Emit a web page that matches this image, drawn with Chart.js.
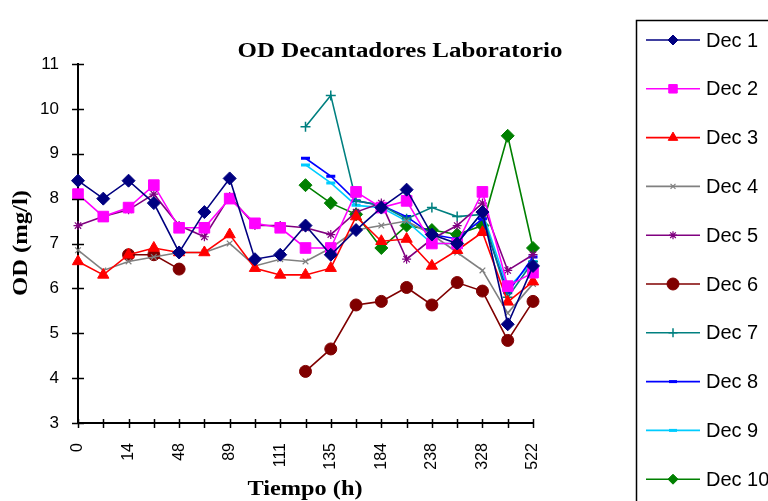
<!DOCTYPE html>
<html>
<head>
<meta charset="utf-8">
<script src="https://cdn.jsdelivr.net/npm/chart.js"></script>
<style>
html,body{margin:0;padding:0;background:#fff;}
#wrap{width:768px;height:501px;}
</style>
</head>
<body>
<div id="wrap"><canvas id="odChart" width="768" height="501"></canvas></div>
<script>
// tiempo (h) - only every other label is printed on the axis
const hours = ["0","7","14","24","48","65","89","96","111","118","135","159","184","208","238","280","328","426","522"];
const seriesNames = ["Dec 1","Dec 2","Dec 3","Dec 4","Dec 5","Dec 6","Dec 7","Dec 8","Dec 9","Dec 10"];
const yTicks = [3,4,5,6,7,8,9,10,11];

const dec1 = [8.4,8.0,8.4,7.9,6.8,7.7,8.45,6.65,6.75,7.4,6.75,7.3,7.8,8.2,7.2,7.0,7.7,5.2,6.5];
const dec2 = [8.1,7.6,7.8,8.3,7.35,7.35,8.0,7.45,7.35,6.9,6.9,8.15,7.8,7.95,7.0,7.0,8.15,6.05,6.35];
const dec3 = [6.6,6.3,6.75,6.9,6.8,6.8,7.2,6.45,6.3,6.3,6.45,7.6,7.05,7.1,6.5,6.85,7.25,5.7,6.15];
const dec4 = [6.85,6.4,6.6,6.7,6.8,6.8,7.0,6.5,6.65,6.6,6.9,7.3,7.4,7.5,7.2,6.8,6.4,5.45,6.1];
const dec5 = [7.4,7.6,7.75,8.1,7.4,7.15,8.05,7.4,7.4,7.35,7.2,7.7,7.9,6.65,7.1,7.4,7.9,6.4,6.75];
const dec6 = [null,null,6.75,6.75,6.43,null,null,null,null,4.15,4.65,5.63,5.71,6.02,5.63,6.13,5.94,4.84,5.71];
const dec7 = [null,null,null,null,null,null,null,null,null,9.6,10.3,7.95,7.85,7.55,7.8,7.6,7.65,5.8,6.6];
const dec8 = [null,null,null,null,null,null,null,null,null,8.9,8.5,7.95,7.85,7.6,7.2,7.1,7.55,5.9,6.7];
const dec9 = [null,null,null,null,null,null,null,null,null,8.75,8.35,7.85,7.8,7.5,7.0,7.0,7.7,6.0,6.6];
const dec10 = [null,null,null,null,null,null,null,null,null,8.3,7.9,7.65,6.9,7.4,7.3,7.2,7.4,9.4,6.9];

const allData = [dec1,dec2,dec3,dec4,dec5,dec6,dec7,dec8,dec9,dec10];
const colors = ["#000080","#ff00ff","#ff0000","#808080","#800080","#800000","#008080","#0000ff","#00ccff","#008000"];
const markers = ["rectRot","rect","triangle","crossRot","star","circle","cross","line","line","rectRot"];
const radii = [6.5,7.5,6.5,4,4.5,6,5,4.5,4.5,6.5];
const legendRadii = [5,6,5.5,3.5,4,6,4.5,4,4,5];
const markerWidth = [1,1,1,1.2,1.2,1,1.5,3,3,1];

const datasets = seriesNames.map((name,i)=>({
label:name,
data:allData[i],
borderColor:colors[i],
backgroundColor:colors[i],
borderWidth:1.6,
pointStyle:markers[i],
pointRadius:radii[i],
pointBorderWidth:markerWidth[i],
pointBackgroundColor:colors[i],
pointBorderColor:colors[i],
spanGaps:false,
tension:0
}));

const deco = {
id:"deco",
afterDraw(chart){
const ctx = chart.ctx;
const xs = chart.scales.x;
const ys = chart.scales.y;
ctx.save();
ctx.strokeStyle = "#000";
ctx.lineWidth = 1.5;
// cross tick marks
hours.forEach((h,i)=>{
const px = Math.round(xs.getPixelForValue(i))+0.5;
ctx.beginPath();
ctx.moveTo(px,ys.bottom-4);
ctx.lineTo(px,ys.bottom+5);
ctx.stroke();
});
yTicks.forEach(v=>{
const py = Math.round(ys.getPixelForValue(v))+0.5;
ctx.beginPath();
ctx.moveTo(xs.left-6,py);
ctx.lineTo(xs.left+6,py);
ctx.stroke();
});

// titles
ctx.fillStyle = "#000";
ctx.textBaseline = "middle";
ctx.textAlign = "center";
function fitText(txt,cx,cy,w,font,rot){
ctx.save();
ctx.font = font;
const m = ctx.measureText(txt).width;
ctx.translate(cx,cy);
if(rot) ctx.rotate(rot);
ctx.scale(w/m,1);
ctx.fillText(txt,0,0);
ctx.restore();
}
fitText("OD Decantadores Laboratorio",400,52,325,"bold 20px 'Liberation Serif'",0);
fitText("Tiempo (h)",305,490,115,"bold 20px 'Liberation Serif'",0);
fitText("OD (mg/l)",22,243,106,"bold 20px 'Liberation Serif'",-Math.PI/2);

// legend box
ctx.lineWidth = 1.5;
ctx.strokeStyle = "#000";
ctx.strokeRect(636.5,20.5,200,520);
ctx.font = "20px 'Liberation Sans'";
ctx.textAlign = "left";
seriesNames.forEach((name,i)=>{
const cy = 40 + i*48.8;
ctx.strokeStyle = colors[i];
ctx.lineWidth = 1.6;
ctx.beginPath();
ctx.moveTo(646,cy);
ctx.lineTo(700,cy);
ctx.stroke();
ctx.lineWidth = markerWidth[i];
ctx.fillStyle = colors[i];
Chart.helpers.drawPoint(ctx,{pointStyle:markers[i],radius:legendRadii[i],borderWidth:markerWidth[i]},673,cy);
ctx.fillStyle = "#000";
ctx.fillText(name,706,cy+1);
});
ctx.restore();
}
};

new Chart(document.getElementById("odChart"),{
type:"line",
data:{labels:hours,datasets:datasets},
options:{
responsive:false,
animation:false,
layout:{padding:{left:0,right:235,top:64,bottom:0}},
plugins:{legend:{display:false},title:{display:false},tooltip:{enabled:false}},
scales:{
x:{
offset:false,
grid:{display:false},
border:{display:true,color:"#000",width:2},
afterFit(s){s.height=78;},
ticks:{
autoSkip:false,
minRotation:90,
maxRotation:90,
padding:12,
color:"#000",
font:{family:"'Liberation Sans'",size:16},
callback(v,i){return i%2===0?hours[i]:"";}
}
},
y:{
min:3,
max:11,
grid:{display:false},
border:{display:true,color:"#000",width:2},
afterFit(s){s.width=78;},
ticks:{
stepSize:1,
padding:11,
color:"#000",
font:{family:"'Liberation Sans'",size:17}
}
}
}
},
plugins:[deco]
});
</script>
</body>
</html>
